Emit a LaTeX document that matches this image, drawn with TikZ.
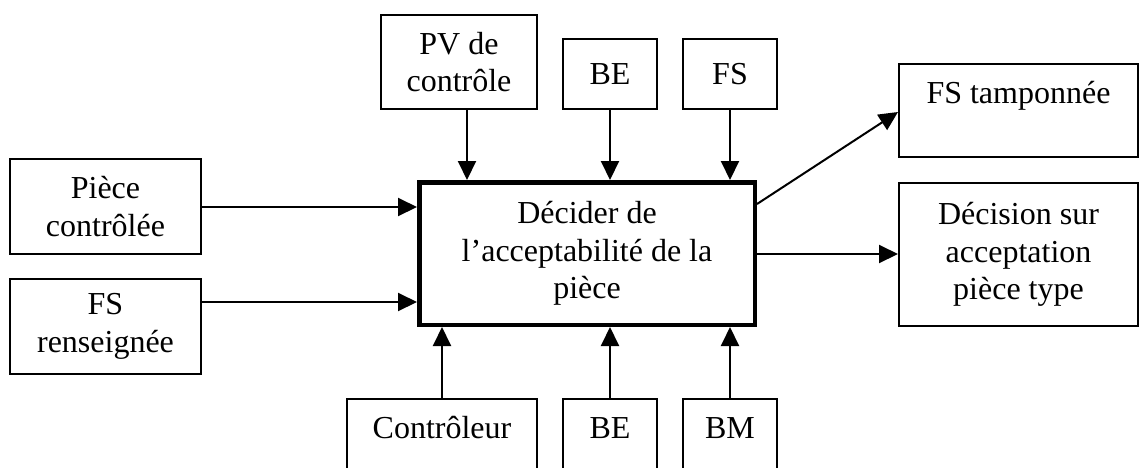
\documentclass[tikz,border=0pt]{standalone}
\usepackage{fontspec}
\setmainfont{Liberation Serif}
\usetikzlibrary{arrows.meta}
\begin{document}
\begin{tikzpicture}[x=1pt,y=-1pt,
  every node/.style={font=\fontsize{32}{37.5}\selectfont, align=center, inner sep=0pt},
  box/.style={draw, line width=2pt},
  mainbox/.style={draw, line width=4.5pt},
  arr/.style={line width=2pt, -{Triangle[length=19pt,width=18pt]}}]
\useasboundingbox (0,0) rectangle (1143,467);
\clip (0,0) rectangle (1143,467);
% top inputs
\node[box, minimum width=156pt, minimum height=94pt] (pv) at (459,62) {PV de\\contrôle};
\node[box, minimum width=94pt, minimum height=70pt] (bet) at (610,74) {BE};
\node[box, minimum width=94pt, minimum height=70pt] (fst) at (730,74) {FS};
% left inputs
\node[box, minimum width=191pt, minimum height=95pt] (piece) at (105.5,206.5) {Pièce\\contrôlée};
\node[box, minimum width=191pt, minimum height=95pt] (fsr) at (105.5,326.5) {FS\\renseignée};
% main
\node[mainbox, minimum width=335.5pt, minimum height=142.5pt] (main) at (587,253.5) {Décider de\\l’acceptabilité de la\\pièce};
% outputs
\node[box, minimum width=239pt, minimum height=93pt, text height=22pt, text depth=36pt] (fstamp) at (1018.5,110.5) {FS tamponnée};
\node[box, minimum width=239pt, minimum height=143pt] (dec) at (1018.5,254.5) {Décision sur\\acceptation\\pièce type};
% bottom mechanisms
\node[box, minimum width=190pt, minimum height=116pt, text height=22pt, text depth=59pt] (ctl) at (442,457) {Contrôleur};
\node[box, minimum width=94pt, minimum height=116pt, text height=22pt, text depth=59pt] (beb) at (610,457) {BE};
\node[box, minimum width=94pt, minimum height=116pt, text height=22pt, text depth=59pt] (bm) at (730,457) {BM};
% connectors
\draw[arr] ([xshift=8pt]pv.south) -- ([xshift=8pt]pv.south |- main.north);
\draw[arr] (bet.south) -- (bet.south |- main.north);
\draw[arr] (fst.south) -- (fst.south |- main.north);
\draw[arr] (piece.east |- 0,207) -- (main.west |- 0,207);
\draw[arr] (fsr.east |- 0,302) -- (main.west |- 0,302);
\draw[arr] (ctl.north) -- (ctl.north |- main.south);
\draw[arr] (beb.north) -- (beb.north |- main.south);
\draw[arr] (bm.north) -- (bm.north |- main.south);
\draw[arr] (main.east |- 0,204) -- ([yshift=-1.5pt]fstamp.west);
\draw[arr] (main.east |- 0,254) -- (dec.west |- 0,254);
\end{tikzpicture}
\end{document}
